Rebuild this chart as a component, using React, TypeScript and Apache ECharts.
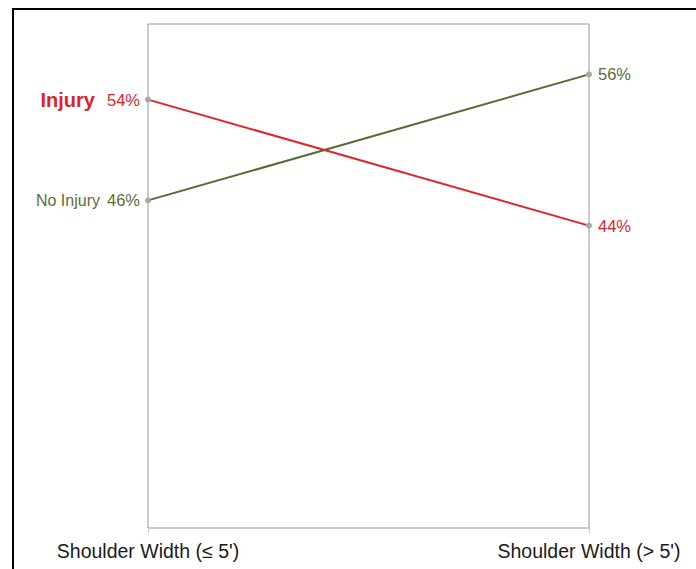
import React, { useEffect, useRef } from "react";
import * as echarts from "echarts";

const categories = ["Shoulder Width (\u2264 5')", "Shoulder Width (> 5')"];
const seriesNames = ["Injury", "No Injury"];
const injuryValues = [54, 44];
const noInjuryValues = [46, 56];

const FONT = "Liberation Sans, Arial, sans-serif";

export default function App() {
  const ref = useRef<HTMLDivElement>(null);
  useEffect(() => {
    if (!ref.current) return;
    const chart = echarts.init(ref.current, null, { renderer: "svg" });
    const mkData = (vals: number[], name: string, color: string, bold: boolean, gap: number) =>
      vals.map((v, i) => ({
        value: v,
        label: {
          show: true,
          position: i === 0 ? "left" : "right",
          distance: i === 0 ? 5 : 6,
          formatter: i === 0 ? `{n|${name}}{v|${v}%}` : `{v|${v}%}`,
          rich: {
            n: {
              color,
              fontSize: bold ? 20 : 16,
              fontWeight: bold ? "bold" : "normal",
              fontFamily: FONT,
              padding: [0, gap, 0, 0],
            },
            v: {
              color,
              fontSize: 16.5,
              fontFamily: FONT,
            },
          },
        },
      }));
    chart.setOption({
      animation: false,
      backgroundColor: "#ffffff",
      grid: {
        left: 148,
        right: 107,
        top: 24,
        bottom: 41,
        show: true,
        borderColor: "#9a9a9a",
        borderWidth: 1,
        backgroundColor: "transparent",
      },
      xAxis: {
        type: "category",
        data: categories,
        boundaryGap: false,
        axisLine: { show: false },
        axisTick: { show: true, length: 5, lineStyle: { color: "#c8c8c8" } },
        axisLabel: {
          color: "#1a1a1a",
          fontSize: 19.5,
          fontFamily: FONT,
          margin: 13,
          interval: 0,
        },
        splitLine: { show: false },
      },
      yAxis: {
        type: "value",
        min: 20,
        max: 60,
        show: false,
        splitLine: { show: false },
      },
      graphic: [
        { type: "line", shape: { x1: 13, y1: 9, x2: 13, y2: 569 }, style: { stroke: "#000", lineWidth: 2 } },
        { type: "line", shape: { x1: 12, y1: 9, x2: 696, y2: 9 }, style: { stroke: "#000", lineWidth: 2 } },
      ],
      series: [
        {
          name: seriesNames[0],
          type: "line",
          data: mkData(injuryValues, seriesNames[0], "#d8262b", true, 12),
          lineStyle: { color: "#e0242a", width: 2 },
          itemStyle: { color: "#a8a8a8" },
          symbol: "circle",
          symbolSize: 6,
          z: 3,
        },
        {
          name: seriesNames[1],
          type: "line",
          data: mkData(noInjuryValues, seriesNames[1], "#5c6b3a", false, 7),
          lineStyle: { color: "#566b30", width: 2 },
          itemStyle: { color: "#a8a8a8" },
          symbol: "circle",
          symbolSize: 6,
          z: 2,
        },
      ],
    });
    return () => chart.dispose();
  }, []);
  return (
    <div
      ref={ref}
      style={{ position: "absolute", left: 0, top: 0, width: 696, height: 569 }}
    />
  );
}
